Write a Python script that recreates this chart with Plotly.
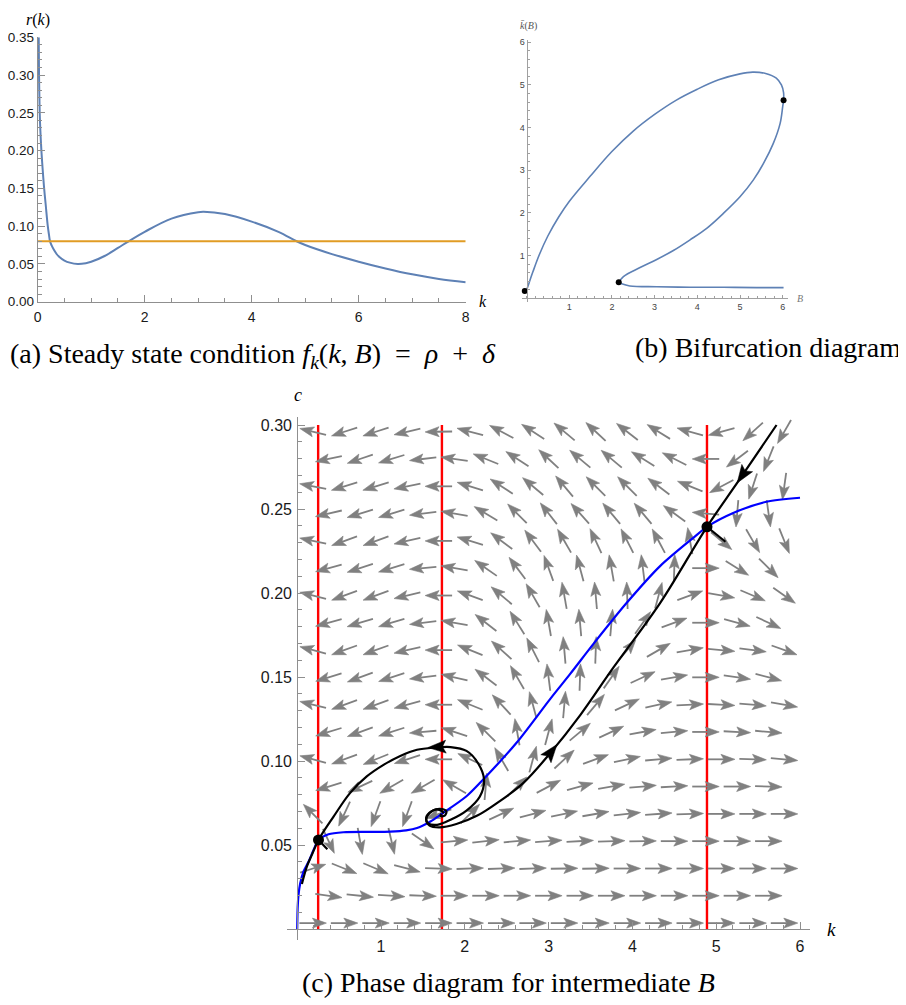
import math
import plotly.graph_objects as go

# ---------------- Panel (a): steady state condition ----------------
a_k = [0.019, 0.025, 0.0375, 0.05, 0.069, 0.09, 0.118, 0.15, 0.187, 0.21, 0.23, 0.26, 0.30, 0.35,
       0.40, 0.50, 0.60, 0.75, 0.90, 1.00, 1.25, 1.50, 1.70, 2.00, 2.50, 3.00, 3.10, 3.50, 4.00,
       4.50, 4.84, 5.00, 5.50, 6.00, 6.50, 7.00, 7.50, 8.00]
a_r = [0.350, 0.300, 0.250, 0.226, 0.200, 0.178, 0.152, 0.128, 0.101, 0.089, 0.080, 0.0745, 0.069,
       0.0635, 0.0595, 0.0545, 0.0517, 0.0500, 0.0510, 0.0528, 0.0605, 0.0712, 0.0800, 0.0925,
       0.1100, 0.1185, 0.1190, 0.1160, 0.1060, 0.0925, 0.0800, 0.0750, 0.0630, 0.0530, 0.0440,
       0.0362, 0.0302, 0.0258]
a_rate_k = [0, 8]
a_rate = [0.08, 0.08]
a_xticks = [0, 2, 4, 6, 8]
a_yticks = [0.00, 0.05, 0.10, 0.15, 0.20, 0.25, 0.30, 0.35]

# ---------------- Panel (b): bifurcation diagram ----------------
b_up_B = [0.0, 0.05, 0.15, 0.30, 0.50, 0.75, 1.0, 1.5, 2.0, 2.5, 3.0, 3.5, 4.0, 4.5, 5.0, 5.3,
          5.6, 5.85, 5.97, 6.02, 6.02]
b_up_k = [0.18, 0.33, 0.62, 1.02, 1.46, 1.90, 2.27, 2.87, 3.44, 3.92, 4.31, 4.64, 4.90, 5.12,
          5.26, 5.30, 5.27, 5.16, 5.00, 4.82, 4.64]
b_mid_B = [6.02, 6.00, 5.94, 5.78, 5.55, 5.31, 5.00, 4.61, 4.22, 3.83, 3.44, 3.05, 2.66, 2.27, 2.16]
b_mid_k = [4.64, 4.49, 4.10, 3.63, 3.16, 2.77, 2.38, 1.99, 1.64, 1.37, 1.12, 0.91, 0.72, 0.51, 0.375]
b_low_B = [2.16, 2.23, 2.42, 3.05, 3.83, 4.61, 5.39, 6.02]
b_low_k = [0.375, 0.34, 0.29, 0.27, 0.26, 0.26, 0.25, 0.25]
b_dot_B = [-0.04, 2.16, 6.02]
b_dot_k = [0.17, 0.375, 4.64]
b_ticks = [1, 2, 3, 4, 5, 6]

# ---------------- Panel (c): phase diagram ----------------
c_blue_k = [0.0, 0.002, 0.006, 0.015, 0.036, 0.075, 0.135, 0.195, 0.254, 0.374, 0.553, 0.87,
            1.11, 1.30, 1.43, 1.59, 1.727, 2.02, 2.22, 2.62, 3.02, 3.26, 3.54, 3.93, 4.33, 4.73,
            4.89, 5.21, 5.60, 6.0]
c_blue_c = [0.0, 0.006, 0.013, 0.020, 0.0272, 0.0341, 0.040, 0.047, 0.053, 0.0564, 0.0576,
            0.0578, 0.0580, 0.0587, 0.0601, 0.0640, 0.0686, 0.0790, 0.0890, 0.1110, 0.1370,
            0.1520, 0.1700, 0.1940, 0.2160, 0.2330, 0.2394, 0.2478, 0.2543, 0.2567]
c_red_k = [0.25, 1.727, 4.89]
c_red_span = [0.0, 0.30]

traj1_k = [0.056, 0.115, 0.175, 0.254, 0.434, 0.63, 0.83, 1.03, 1.23, 1.43, 1.65, 1.83, 2.02,
           2.16, 2.23, 2.18, 2.02, 1.83, 1.67, 1.56, 1.54, 1.60, 1.70, 1.78, 1.76, 1.71, 1.72]
traj1_c = [0.0268, 0.0371, 0.0441, 0.053, 0.0669, 0.0809, 0.0908, 0.0977, 0.103, 0.1067, 0.108,
           0.1083, 0.1060, 0.0985, 0.0888, 0.0789, 0.0705, 0.0650, 0.0620, 0.0630, 0.0665, 0.0700,
           0.0715, 0.0700, 0.0675, 0.0672, 0.0686]
traj2_k = [5.72, 5.25, 4.89, 4.33, 3.77, 3.38, 3.02, 2.70, 2.40, 2.15, 1.90, 1.70, 1.58, 1.54,
           1.58, 1.66, 1.73, 1.75]
traj2_c = [0.300, 0.2655, 0.2394, 0.194, 0.1554, 0.1275, 0.1047, 0.087, 0.0755, 0.0675, 0.0625,
           0.0605, 0.0615, 0.065, 0.069, 0.0712, 0.0700, 0.0688]
stub1_k = [0.254, 0.36]
stub1_c = [0.053, 0.0475]
stub2_k = [4.89, 5.11]
stub2_c = [0.2394, 0.2305]
saddle_k = [0.254, 4.89]
saddle_c = [0.053, 0.2394]
tarrow_k = [1.56, 3.10, 5.25]
tarrow_c = [0.1080, 0.1098, 0.2655]
tarrow_ang = [183, 52, 236]

# vector field (staggered grid), screen angles in degrees
field_c = [0.0035, 0.0198, 0.036, 0.0523, 0.0685, 0.0848, 0.101, 0.1173, 0.1335, 0.1498,
           0.166, 0.1823, 0.1985, 0.2148, 0.231, 0.2473, 0.2635, 0.2798, 0.296]
field_k_even = [0.1875, 0.5625, 0.9375, 1.3125, 1.6875, 2.0625, 2.4375, 2.8125, 3.1875, 3.5625,
                3.9375, 4.3125, 4.6875, 5.0625, 5.4375, 5.8125]
field_k_odd = [0.375, 0.75, 1.125, 1.5, 1.875, 2.25, 2.625, 3.0, 3.375, 3.75, 4.125, 4.5, 4.875,
               5.25, 5.625]
field_ang = [
    [0, 0, 0, 0, 0, 0, 0, 0, 0, 0, 0, 0, 0, 0, 0, 0],
    [352, 354, 356, 358, 0, 0, 0, 0, 0, 0, 0, 0, 0, 0, 0],
    [18, 338, 337, 345, 358, 2, 2, 2, 1, 1, 0, 0, 0, 0, 0, 0],
    [295, 280, 283, 325, 5, 6, 5, 4, 3, 2, 1, 0, 0, 0, 0],
    [135, 245, 250, 250, 200, 45, 25, 15, 12, 10, 6, 4, 2, 0, 0, 0],
    [197, 205, 210, 210, 150, 85, 45, 28, 15, 10, 5, 3, 0, 0, 358],
    [165, 200, 202, 198, 180, 155, 120, 75, 43, 20, 12, 5, 2, 0, 358, 355],
    [197, 200, 198, 185, 162, 135, 100, 75, 40, 25, 10, 5, 0, 357, 355],
    [166, 200, 200, 195, 180, 158, 133, 105, 85, 50, 25, 12, 3, 357, 355, 350],
    [197, 200, 198, 187, 167, 143, 120, 97, 88, 55, 25, 10, 0, 352, 345],
    [165, 200, 200, 193, 180, 158, 138, 117, 95, 88, 50, 30, 10, 355, 353, 340],
    [195, 197, 197, 187, 170, 142, 122, 100, 95, 85, 55, 20, 0, 345, 335],
    [166, 200, 200, 193, 180, 160, 140, 120, 100, 95, 92, 75, 20, 350, 337, 325],
    [195, 198, 197, 185, 170, 145, 127, 110, 105, 100, 97, 88, 0, 328, 315],
    [168, 200, 200, 193, 180, 163, 143, 127, 120, 115, 117, 118, 100, 320, 300, 292],
    [193, 197, 197, 187, 170, 149, 135, 128, 132, 130, 130, 144, 175, 265, 278],
    [169, 197, 197, 191, 180, 163, 147, 140, 130, 135, 135, 143, 158, 208, 252, 262],
    [192, 199, 197, 187, 172, 158, 147, 137, 140, 140, 148, 153, 180, 217, 248],
    [166, 198, 198, 193, 181, 165, 152, 147, 140, 137, 142, 148, 164, 195, 222, 240],
]
c_xticks = [1, 2, 3, 4, 5, 6]
c_yticks = [0.05, 0.10, 0.15, 0.20, 0.25, 0.30]

# ---------------- geometry (page pixels; the page body adds an 8 px margin) ----------------
PAGE_OFF = 8
W, H = 906 - PAGE_OFF, 1005 - PAGE_OFF
SX = 83.8     # px per unit k  (panel c)
SY = 1680.0   # px per unit c  (panel c)


def px_x(p):
    return (p - PAGE_OFF) / W


def px_y(p):
    return 1 - (p - PAGE_OFF) / H


def arrow_parts(tipk, tipc, ang, HL, HW, HN):
    th = math.radians(ang)
    ux, uy = math.cos(th), math.sin(th)

    def pt(along, perp):
        return (tipk + (-along * ux - perp * uy) / SX,
                tipc + (-along * uy + perp * ux) / SY)
    head = [(tipk, tipc), pt(HL, HW / 2), pt(HN, 0), pt(HL, -HW / 2), (tipk, tipc)]
    return head, pt(HN, 0)


fig = go.Figure()

# ---- panel (a)
fig.add_trace(go.Scatter(x=a_k, y=a_r, mode='lines',
                         line=dict(color='#5E81B5', width=2, shape='spline', smoothing=1.0),
                         xaxis='x', yaxis='y', hoverinfo='skip'))
fig.add_trace(go.Scatter(x=a_rate_k, y=a_rate, mode='lines', line=dict(color='#E19C24', width=2),
                         xaxis='x', yaxis='y', hoverinfo='skip'))

# ---- panel (b)
for bx, by in [(b_up_B, b_up_k), (b_mid_B, b_mid_k), (b_low_B, b_low_k)]:
    fig.add_trace(go.Scatter(x=bx, y=by, mode='lines',
                             line=dict(color='#5E81B5', width=1.6, shape='spline', smoothing=1.0),
                             xaxis='x2', yaxis='y2', hoverinfo='skip'))
fig.add_trace(go.Scatter(x=b_dot_B, y=b_dot_k, mode='markers', marker=dict(color='black', size=6),
                         xaxis='x2', yaxis='y2', hoverinfo='skip', cliponaxis=False))

# ---- panel (c)
rx, ry = [], []
for k in c_red_k:
    rx += [k, k, None]
    ry += [c_red_span[0], c_red_span[1], None]
fig.add_trace(go.Scatter(x=rx, y=ry, mode='lines', line=dict(color='#FF0000', width=2.4),
                         xaxis='x3', yaxis='y3', hoverinfo='skip'))

L_ARROW = 27.0
sx_, sy_, hx_, hy_ = [], [], [], []
for m, crow in enumerate(field_c):
    ks = field_k_even if m % 2 == 0 else field_k_odd
    for k, ang in zip(ks, field_ang[m]):
        th = math.radians(ang)
        tipk = k + 0.5 * L_ARROW * math.cos(th) / SX
        tipc = crow + 0.5 * L_ARROW * math.sin(th) / SY
        tailk = k - 0.5 * L_ARROW * math.cos(th) / SX
        tailc = crow - 0.5 * L_ARROW * math.sin(th) / SY
        head, neck = arrow_parts(tipk, tipc, ang, 14.0, 10.0, 11.0)
        sx_ += [tailk, neck[0], None]
        sy_ += [tailc, neck[1], None]
        for p in head:
            hx_.append(p[0])
            hy_.append(p[1])
        hx_.append(None)
        hy_.append(None)
fig.add_trace(go.Scatter(x=sx_, y=sy_, mode='lines', line=dict(color='#808080', width=1.8),
                         xaxis='x3', yaxis='y3', hoverinfo='skip'))
fig.add_trace(go.Scatter(x=hx_, y=hy_, mode='lines', fill='toself', fillcolor='#808080',
                         line=dict(color='#808080', width=0.6), xaxis='x3', yaxis='y3', hoverinfo='skip'))

fig.add_trace(go.Scatter(x=c_blue_k, y=c_blue_c, mode='lines',
                         line=dict(color='#0000FF', width=2.2, shape='spline', smoothing=0.8),
                         xaxis='x3', yaxis='y3', hoverinfo='skip'))
for tk, tc in [(traj1_k, traj1_c), (traj2_k, traj2_c), (stub1_k, stub1_c), (stub2_k, stub2_c)]:
    fig.add_trace(go.Scatter(x=tk, y=tc, mode='lines',
                             line=dict(color='black', width=2.2, shape='spline', smoothing=1.0),
                             xaxis='x3', yaxis='y3', hoverinfo='skip'))
bhx, bhy = [], []
for tk, tc, ta in zip(tarrow_k, tarrow_c, tarrow_ang):
    head, _ = arrow_parts(tk, tc, ta, 18.0, 13.0, 14.5)
    for p in head:
        bhx.append(p[0])
        bhy.append(p[1])
    bhx.append(None)
    bhy.append(None)
fig.add_trace(go.Scatter(x=bhx, y=bhy, mode='lines', fill='toself', fillcolor='black',
                         line=dict(color='black', width=0.5), xaxis='x3', yaxis='y3', hoverinfo='skip'))
fig.add_trace(go.Scatter(x=saddle_k, y=saddle_c, mode='markers', marker=dict(color='black', size=11),
                         xaxis='x3', yaxis='y3', hoverinfo='skip'))

# ---------------- layout ----------------
AX = '#8f8f8f'
TICKF = dict(family='Liberation Sans, Arial, sans-serif', color='#1a1a1a')

base = dict(showgrid=False, zeroline=False, showline=True, linecolor=AX, linewidth=1,
            ticks='inside', tickcolor=AX, tickwidth=1, automargin=False)

layout = dict(
    template='none',
    width=W, height=H, margin=dict(l=0, r=0, t=0, b=0, pad=0, autoexpand=False),
    paper_bgcolor='white', plot_bgcolor='rgba(0,0,0,0)', showlegend=False, hovermode=False,
    xaxis=dict(base, domain=[px_x(37.7), px_x(465.7)], range=[0, 8], anchor='y',
               tickvals=a_xticks, ticktext=[str(v) for v in a_xticks], ticklen=7,
               tickfont=dict(TICKF, size=14), ticklabelstandoff=2,
               minor=dict(ticks='inside', ticklen=4, dtick=0.5, tick0=0, tickcolor=AX, showgrid=False)),
    yaxis=dict(base, domain=[px_y(301.7), px_y(37.3)], range=[0, 0.35], anchor='x',
               tickvals=a_yticks, ticktext=['%.2f' % v for v in a_yticks], ticklen=7,
               tickfont=dict(TICKF, size=13.5), ticklabelstandoff=0,
               minor=dict(ticks='inside', ticklen=4, dtick=0.01, tick0=0, tickcolor=AX, showgrid=False)),
    xaxis2=dict(base, domain=[px_x(522), px_x(788)], range=[-0.105, 6.124], anchor='free',
                position=px_y(298.3), tickvals=b_ticks, ticktext=[str(v) for v in b_ticks], ticklen=3,
                linecolor='#a0a0a0', tickcolor='#a0a0a0',
                tickfont=dict(family='Liberation Sans, Arial, sans-serif', size=9, color='#444'),
                minor=dict(ticks='inside', ticklen=2, dtick=0.2, tick0=0, tickcolor='#a0a0a0', showgrid=False)),
    yaxis2=dict(base, domain=[px_y(302), px_y(40)], range=[-0.087, 6.054], anchor='free',
                position=px_x(526.5), tickvals=b_ticks, ticktext=[str(v) for v in b_ticks], ticklen=3,
                linecolor='#a0a0a0', tickcolor='#a0a0a0',
                tickfont=dict(family='Liberation Sans, Arial, sans-serif', size=9, color='#444'),
                minor=dict(ticks='inside', ticklen=2, dtick=0.2, tick0=0, tickcolor='#a0a0a0', showgrid=False)),
    xaxis3=dict(base, domain=[px_x(287), px_x(810)], range=[-0.1217, 6.1193], anchor='free',
                position=px_y(929), tickvals=c_xticks, ticktext=[str(v) for v in c_xticks], ticklen=7,
                tickfont=dict(TICKF, size=16), ticklabelstandoff=3,
                minor=dict(ticks='inside', ticklen=4, dtick=0.2, tick0=0, tickcolor=AX, showgrid=False)),
    yaxis3=dict(base, domain=[px_y(940), px_y(417)], range=[-0.006548, 0.304762], anchor='free',
                position=px_x(297.2), tickvals=c_yticks, ticktext=['%.2f' % v for v in c_yticks], ticklen=7,
                tickfont=dict(TICKF, size=16), ticklabelstandoff=2,
                minor=dict(ticks='inside', ticklen=4, dtick=0.01, tick0=0, tickcolor=AX, showgrid=False)),
)
fig.update_layout(**layout)

SERIF = 'Liberation Serif, Times New Roman, serif'


def label(text, x, y, size, color='black', xanchor='center', family=SERIF):
    fig.add_annotation(text=text, x=px_x(x), y=px_y(y), xref='paper', yref='paper', showarrow=False,
                       xanchor=xanchor, yanchor='middle', font=dict(family=family, size=size, color=color))


label('<i>r</i>(<i>k</i>)', 38, 20, 16)
label('<i>k</i>', 483, 301, 16)
label('<i>k̄</i>(<i>B</i>)', 528, 26, 10, color='#555')
label('<i>B</i>', 800, 298, 10, color='#777')
label('<i>c</i>', 298, 395, 18)
label('<i>k</i>', 831, 929, 19)

label('(a) Steady state condition <i>f</i><sub><i>k</i></sub>(<i>k</i>, <i>B</i>)  =  <i>ρ</i>  +  <i>δ</i>',
      8, 355, 28, xanchor='left')
label('(b) Bifurcation diagram', 903, 347, 28, xanchor='right')
label('(c) Phase diagram for intermediate <i>B</i>', 300, 982, 28, xanchor='left')

fig.write_html('out.html')
